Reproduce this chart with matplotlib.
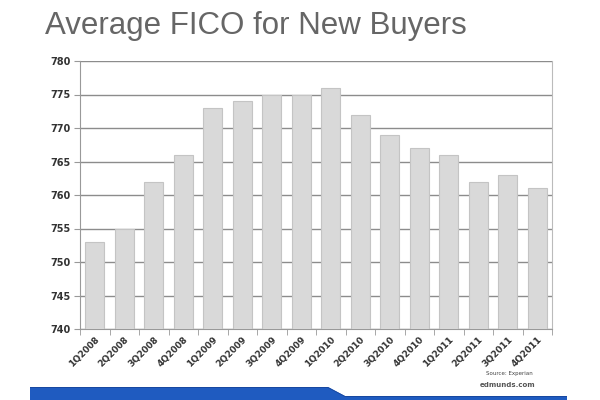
import matplotlib
matplotlib.use("Agg")
import matplotlib.pyplot as plt
from matplotlib.patches import Polygon

categories = ["1Q2008", "2Q2008", "3Q2008", "4Q2008", "1Q2009", "2Q2009", "3Q2009", "4Q2009",
              "1Q2010", "2Q2010", "3Q2010", "4Q2010", "1Q2011", "2Q2011", "3Q2011", "4Q2011"]
values = [753, 755, 762, 766, 773, 774, 775, 775, 776, 772, 769, 767, 766, 762, 763, 761]
yticks = [740, 745, 750, 755, 760, 765, 770, 775, 780]

W, H = 600, 400
fig = plt.figure(figsize=(6, 4), dpi=100)
fig.patch.set_facecolor("white")

ax = fig.add_axes([80 / W, 1 - 329 / H, (552 - 80) / W, (329 - 61) / H])
x = list(range(len(categories)))
ax.bar(x, values, width=0.66, color="#d9d9d9", edgecolor="#c4c4c4", linewidth=0.8, zorder=3)
ax.set_ylim(740, 780)
ax.set_xlim(-0.5, len(categories) - 0.5)
ax.set_yticks(yticks)
ax.set_yticklabels([str(t) for t in yticks], fontsize=7, color="#333333", fontweight="bold")
ax.set_xticks(x)
ax.set_xticklabels(categories, rotation=45, ha="right", rotation_mode="anchor",
                   fontsize=6.5, color="#333333", fontweight="bold")
ax.tick_params(axis="x", which="major", length=0, pad=4)
ax.set_xticks([i - 0.5 for i in range(len(categories) + 1)], minor=True)
ax.tick_params(axis="x", which="minor", length=4, color="#999999")
ax.tick_params(axis="y", length=4, color="#999999", pad=3)
ax.grid(axis="y", which="major", color="#8c8c8c", linewidth=1.0, zorder=0)
ax.spines["top"].set_visible(False)
ax.spines["right"].set_color("#bbbbbb")
ax.spines["left"].set_color("#999999")
ax.spines["bottom"].set_color("#999999")

fig.text(45 / W, 1 - 26 / H, "Average FICO for New Buyers", fontsize=22.5, color="#666666",
         va="center", ha="left", family="Liberation Sans")
fig.text(533 / W, 1 - 373 / H, "Source: Experian", fontsize=4, color="#444444", ha="right", va="center")
fig.text(535 / W, 1 - 385 / H, "edmunds.com", fontsize=5, color="#555555", ha="right", va="center",
         fontweight="bold")

poly = Polygon([(30 / W, 0), (30 / W, 1 - 387 / H), (328 / W, 1 - 387 / H), (345 / W, 1 - 396 / H),
                (567 / W, 1 - 396 / H), (567 / W, 0)], closed=True, transform=fig.transFigure,
               facecolor="#1f5bc0", edgecolor="none")
fig.patches.append(poly)
poly2 = Polygon([(30 / W, 1 - 387 / H), (328 / W, 1 - 387 / H), (345 / W, 1 - 396 / H),
                 (567 / W, 1 - 396 / H), (567 / W, 1 - 397 / H), (345 / W, 1 - 397 / H),
                 (328 / W, 1 - 388 / H), (30 / W, 1 - 388 / H)], closed=True, transform=fig.transFigure,
                facecolor="#1848a0", edgecolor="none")
fig.patches.append(poly2)

fig.savefig("out.png", dpi=100)
